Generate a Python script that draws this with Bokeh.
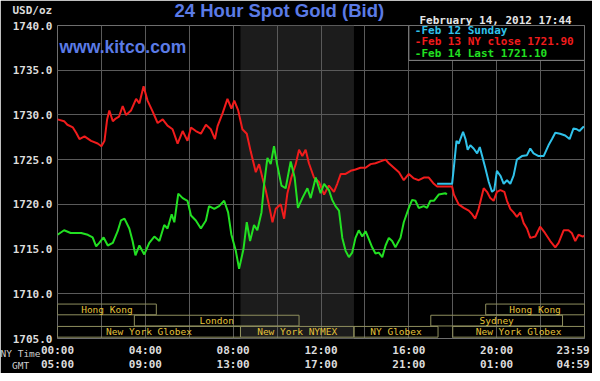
from bokeh.plotting import figure
from bokeh.models import Range1d, FixedTicker, LinearAxis, Label, BoxAnnotation, ColumnDataSource, Title
from bokeh.core.properties import value
from bokeh.embed import file_html
from bokeh.resources import INLINE

# ---------------- data ----------------
# Feb 13 (NY close 1721.90), hours of the NY day
feb13_hours = [0, 0.3, 0.45, 0.7, 0.85, 1.0, 1.23, 1.53, 1.83, 2.0,
               2.14, 2.26, 2.36, 2.52, 2.65, 2.8, 2.97, 3.12, 3.35, 3.58,
               3.73, 3.92, 4.1, 4.33, 4.56, 4.79, 5.01, 5.24, 5.47, 5.7,
               5.92, 6.08, 6.3, 6.53, 6.76, 6.98, 7.17, 7.29, 7.52, 7.74,
               7.92, 8.05, 8.23, 8.42, 8.62, 8.8, 9.03, 9.18, 9.33, 9.48,
               9.64, 9.79, 9.94, 10.17, 10.32, 10.47, 10.65, 10.85, 11.0, 11.15,
               11.3, 11.45, 11.68, 11.91, 12.14, 12.36, 12.59, 12.74, 12.9, 13.12,
               13.35, 13.57, 13.8, 14.03, 14.26, 14.48, 14.71, 14.94, 15.09, 15.32,
               15.55, 15.77, 16.0, 16.23, 16.45, 16.68, 16.91, 17.14, 17.29, 17.97,
               18.05, 18.27, 18.5, 18.73, 18.88, 19.02, 19.18, 19.41, 19.56, 19.71,
               19.86, 20.01, 20.17, 20.35, 20.47, 20.62, 20.77, 20.92, 21.08, 21.23,
               21.38, 21.53, 21.76, 21.98, 22.2, 22.44, 22.67, 22.82, 23.05, 23.27,
               23.42, 23.58, 23.73, 23.92, 23.98]
feb13_price = [1729.5, 1729.3, 1728.9, 1728.6, 1728.0, 1727.3, 1727.6, 1727.1, 1726.8, 1726.5,
               1727.1, 1729.5, 1730.5, 1729.3, 1729.6, 1729.8, 1731.0, 1730.0, 1730.5, 1731.8,
               1731.3, 1733.2, 1731.6, 1730.4, 1729.1, 1729.5, 1728.8, 1728.4, 1726.8, 1728.2,
               1727.1, 1728.6, 1728.2, 1727.9, 1728.9, 1728.4, 1727.3, 1728.75, 1730.2, 1731.8,
               1730.7, 1731.6, 1730.5, 1728.4, 1727.9, 1725.9, 1723.6, 1724.5, 1723.0, 1721.6,
               1719.8, 1718.0, 1719.5, 1720.0, 1718.4, 1721.25, 1723.0, 1724.5, 1726.1, 1725.4,
               1726.1, 1724.6, 1723.0, 1722.5, 1721.1, 1722.1, 1721.4, 1722.3, 1723.4, 1723.4,
               1723.75, 1723.9, 1724.1, 1724.1, 1724.5, 1724.6, 1724.8, 1725.0, 1724.6, 1724.1,
               1723.6, 1722.7, 1723.4, 1722.9, 1722.7, 1723.0, 1723.0, 1722.3, 1722.0, 1722.0,
               1721.1, 1720.0, 1719.6, 1719.3, 1718.9, 1718.4, 1719.5, 1721.8, 1721.4, 1720.7,
               1720.4, 1721.4, 1721.6, 1721.4, 1720.4, 1719.5, 1719.1, 1718.6, 1719.1, 1717.9,
               1717.3, 1716.25, 1716.4, 1717.5, 1716.8, 1715.9, 1715.2, 1715.7, 1717.1, 1717.1,
               1716.8, 1715.9, 1716.6, 1716.4, 1716.5]

# Feb 14 (last 1721.10)
feb14_hours = [0, 0.3, 0.6, 1.08, 1.38, 1.6, 1.76, 1.9, 2.1, 2.29,
               2.52, 2.74, 2.89, 3.05, 3.27, 3.42, 3.55, 3.73, 3.95, 4.18,
               4.41, 4.64, 4.86, 5.01, 5.2, 5.32, 5.5, 5.7, 5.92, 6.08,
               6.3, 6.53, 6.76, 6.9, 7.14, 7.36, 7.59, 7.77, 7.92, 8.12,
               8.27, 8.47, 8.62, 8.77, 8.95, 9.1, 9.29, 9.41, 9.56, 9.71,
               9.86, 10.0, 10.2, 10.39, 10.62, 10.8, 10.95, 11.15, 11.38, 11.53,
               11.76, 11.98, 12.14, 12.36, 12.51, 12.66, 12.82, 12.97, 13.12, 13.27,
               13.42, 13.57, 13.72, 13.88, 14.03, 14.18, 14.33, 14.48, 14.63, 14.79,
               14.94, 15.09, 15.24, 15.39, 15.62, 15.77, 16.0, 16.15, 16.3, 16.45,
               16.68, 16.83, 16.98, 17.14, 17.36, 17.67, 17.73]
feb14_price = [1716.6, 1717.1, 1716.8, 1716.8, 1716.6, 1716.3, 1715.3, 1715.7, 1716.3, 1715.4,
               1715.7, 1717.0, 1718.2, 1718.4, 1717.3, 1715.9, 1714.3, 1715.4, 1714.4, 1715.7,
               1716.4, 1715.9, 1717.7, 1717.3, 1718.9, 1718.0, 1721.2, 1720.7, 1720.4, 1718.75,
               1718.2, 1717.3, 1718.2, 1719.8, 1719.5, 1719.8, 1720.4, 1719.1, 1716.6, 1714.8,
               1712.8, 1715.0, 1718.0, 1715.9, 1717.7, 1717.1, 1719.1, 1722.3, 1725.2, 1724.5,
               1726.5, 1724.5, 1722.1, 1721.8, 1724.8, 1723.0, 1719.6, 1720.7, 1721.8, 1720.7,
               1723.0, 1721.25, 1722.3, 1721.6, 1720.5, 1719.8, 1719.3, 1716.25, 1714.8, 1714.1,
               1714.6, 1716.25, 1717.1, 1716.4, 1717.0, 1716.1, 1715.2, 1714.5, 1714.6, 1714.1,
               1715.4, 1716.25, 1715.9, 1715.2, 1716.25, 1718.0, 1719.6, 1720.5, 1720.4, 1719.6,
               1719.8, 1719.6, 1720.4, 1720.4, 1721.1, 1721.25, 1721.1]

# Feb 12 (Sunday evening)
feb12_hours = [17.29, 17.97, 18.05, 18.17, 18.27, 18.47, 18.58, 18.68, 18.8, 18.95,
               19.11, 19.23, 19.33, 19.48, 19.64, 19.79, 19.89, 20.01, 20.17, 20.32,
               20.47, 20.62, 20.77, 20.92, 21.15, 21.38, 21.53, 21.68, 21.91, 22.14,
               22.36, 22.52, 22.67, 22.89, 23.12, 23.32, 23.5, 23.65, 23.77, 23.92, 23.98]
feb12_price = [1722.3, 1722.3, 1724.1, 1727.1, 1726.8, 1728.1, 1727.3, 1726.1, 1726.6, 1726.25,
               1725.7, 1726.4, 1725.5, 1724.1, 1722.5, 1721.4, 1721.6, 1723.75, 1723.2, 1722.3,
               1722.7, 1722.3, 1723.2, 1725.0, 1725.4, 1725.5, 1726.25, 1725.7, 1725.4, 1725.4,
               1726.6, 1727.3, 1728.0, 1727.9, 1727.7, 1727.3, 1728.5, 1728.4, 1728.2, 1728.6, 1728.7]

series_names = ["Feb 12 Sunday", "Feb 13 NY close 1721.90", "Feb 14 Last 1721.10"]
series_colors = ["#30c2ea", "#f01c1c", "#22e022"]

ny_time_labels = ["00:00", "04:00", "08:00", "12:00", "16:00", "20:00", "23:59"]
gmt_labels = ["05:00", "09:00", "13:00", "17:00", "21:00", "01:00", "04:59"]
label_hours = [0, 4, 8, 12, 16, 20, 23.983]

y_ticks = [1705, 1710, 1715, 1720, 1725, 1730, 1735, 1740]

# trading sessions: name, start hour, end hour, row (0 = top)
session_names = ["Hong Kong", "London", "New York Globex", "New York NYMEX",
                 "NY Globex", "Sydney", "Hong Kong", "New York Globex"]
session_start = [0, 3.5, 0, 8.333, 13.5, 17.0, 19.5, 18.0]
session_end = [4.5, 11.0, 8.333, 13.5, 17.33, 23.0, 24.0, 24.0]
session_row = [0, 1, 2, 2, 2, 1, 0, 2]

ny_pit_open, ny_pit_close = 8.333, 13.5

title_text = "24 Hour Spot Gold (Bid)"
date_text = "February 14, 2012 17:44"
unit_text = "USD/oz"
row_names = ["NY Time", "GMT"]

# ---------------- layout ----------------
X_MIN, X_MAX, Y_MIN, Y_MAX = 0, 24, 1705, 1740
W, H = 592, 373
FL, FR, FT, FB = 57, 584, 25, 339   # frame edges in canvas px

MONO = "DejaVu Sans Mono"
SANS = "Liberation Sans"
TICK_COLOR = "#dcdcdc"
GRID = "#5a5a5a"
BLUE = "#5b7be6"

p = figure(width=W, height=H, x_range=Range1d(X_MIN, X_MAX), y_range=Range1d(Y_MIN, Y_MAX),
           output_backend="svg", toolbar_location=None,
           background_fill_color="black", border_fill_color="black",
           min_border_left=FL, min_border_right=W - FR, min_border_top=FT, min_border_bottom=H - FB)
p.outline_line_color = "#6e6e6e"

# NY pit session shading
p.add_layout(BoxAnnotation(left=ny_pit_open, right=ny_pit_close, fill_color="#1c1c1c",
                           fill_alpha=1.0, line_color=None, level="image"))

# grid
p.xgrid.ticker = FixedTicker(ticks=list(range(0, 25, 2)))
p.ygrid.ticker = FixedTicker(ticks=y_ticks)
for g in (p.xgrid, p.ygrid):
    g.grid_line_color = GRID
    g.grid_line_width = 1


def style_axis(ax, standoff, color=TICK_COLOR, font=MONO, size="11px", style="bold"):
    ax.axis_line_color = None
    ax.major_tick_line_color = None
    ax.minor_tick_line_color = None
    ax.major_tick_out = 0
    ax.major_tick_in = 0
    ax.major_label_standoff = standoff
    ax.major_label_text_color = color
    ax.major_label_text_font = font
    ax.major_label_text_font_size = size
    ax.major_label_text_font_style = style


def text_axis(side, pos, text, bounds, standoff, **kw):
    """An axis used only to place one text outside the frame."""
    ax = LinearAxis(ticker=FixedTicker(ticks=[pos]), bounds=bounds,
                    major_label_overrides={pos: text})
    style_axis(ax, standoff, **kw)
    p.add_layout(ax, side)
    return ax


def panel_title(side, text, offset, standoff, **kw):
    """A (near) zero-height panel title, used for texts outside the frame."""
    t = Title(text=text, align="left", offset=offset, vertical_align="middle",
              standoff=standoff, **kw)
    p.add_layout(t, side)
    return t


# y axis
yax = p.yaxis[0]
yax.ticker = FixedTicker(ticks=y_ticks)
yax.major_label_overrides = {t: f"{t:.1f}" for t in y_ticks}
style_axis(yax, 5)

# ---- below: NY time axis, row names, GMT axis (last label kept inside the window)
tick_pos = label_hours[:-1] + [label_hours[-1] - 0.5]
xax = p.xaxis[0]
xax.ticker = FixedTicker(ticks=tick_pos)
xax.major_label_overrides = {t: s for t, s in zip(tick_pos, ny_time_labels)}
style_axis(xax, 5)

panel_title("below", row_names[0] + "\n\u00a0\u00a0" + row_names[1], -FL, -34,
            text_color="#cfcfcf", text_font=MONO, text_font_size="9.5px",
            text_font_style="normal", text_line_height=1.1)

gmt_ax = LinearAxis(ticker=FixedTicker(ticks=tick_pos),
                    major_label_overrides={t: s for t, s in zip(tick_pos, gmt_labels)})
style_axis(gmt_ax, -2)
p.add_layout(gmt_ax, "below")

# ---- above: date, unit, title
text_axis("above", 19.95, date_text, (15.0, 23.0), -1, color="#e6e6e6")
panel_title("above", unit_text, 12 - FL, -22, text_color=TICK_COLOR, text_font=MONO,
            text_font_size="11px", text_font_style="bold")
panel_title("above", title_text, 174 - FL, -30, text_color=BLUE, text_font=SANS,
            text_font_size="18.5px", text_font_style="bold")

# sessions bars
row_h = 1.25
src = ColumnDataSource(dict(
    left=session_start, right=session_end,
    top=[1708.85 - r * row_h for r in session_row],
    bottom=[1708.85 - r * row_h - 1.2 for r in session_row],
    xc=[(a + b) / 2 for a, b in zip(session_start, session_end)],
    yc=[1708.85 - r * row_h - 0.6 for r in session_row],
    name=session_names))
p.quad(left="left", right="right", top="top", bottom="bottom", source=src,
       fill_alpha=0, line_color="#8f8f5e", line_width=1)
p.text(x="xc", y="yc", text="name", source=src, text_font=value(MONO),
       text_font_size="9.5px", text_color="#e4c23a", text_align="center",
       text_baseline="middle")

# price lines
p.line(feb13_hours, feb13_price, line_color=series_colors[1], line_width=2)
p.line(feb14_hours, feb14_price, line_color=series_colors[2], line_width=2)
p.line(feb12_hours, feb12_price, line_color=series_colors[0], line_width=2)

# legend box
p.add_layout(BoxAnnotation(left=16.0, right=24, top=1740, bottom=1736.1,
                           fill_color="black", fill_alpha=1.0, line_color="#8a8a8a",
                           line_width=1, line_alpha=1.0, level="annotation"))
for i, (name, col) in enumerate(zip(series_names, series_colors)):
    p.add_layout(Label(x=16.27, y=1739.45 - i * 1.28, text="-" + name, text_color=col,
                       text_font=MONO, text_font_size="11px", text_font_style="bold",
                       text_baseline="middle", text_align="left", level="overlay"))

p.add_layout(Label(x=0.09, y=1737.55, text="www.kitco.com", text_color=BLUE, text_font=SANS,
                   text_font_size="17.5px", text_font_style="bold", text_align="left",
                   text_baseline="middle", level="overlay"))

open("out.html", "w").write(file_html(p, INLINE))
